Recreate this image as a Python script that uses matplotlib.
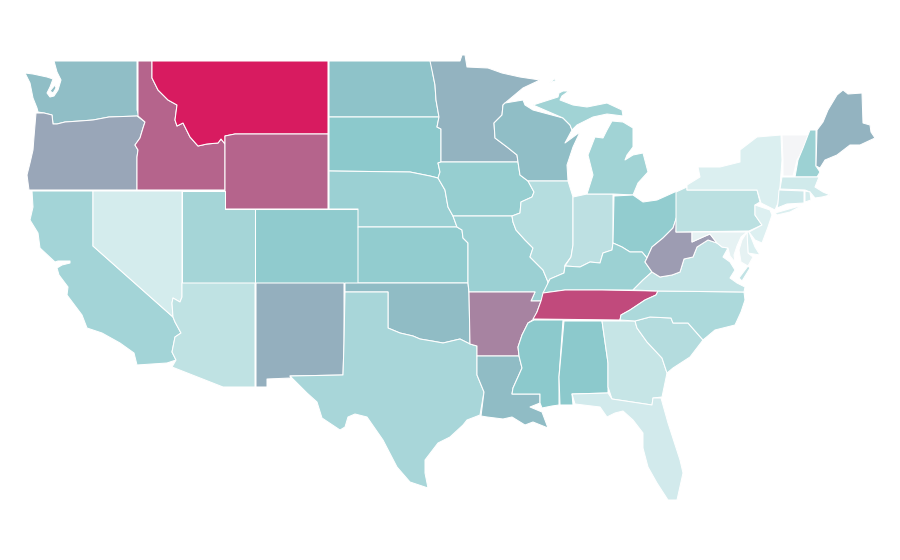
import matplotlib
matplotlib.use('Agg')
import matplotlib.pyplot as plt
from matplotlib.collections import PolyCollection
from matplotlib.colors import LinearSegmentedColormap

# state values (0 = palest, 1 = strongest)
states = ['WA', 'OR', 'CA', 'ID', 'NV', 'MT', 'WY', 'UT', 'AZ', 'CO', 'NM', 'ND', 'SD', 'NE', 'KS', 'OK', 'TX',
          'MN', 'IA', 'MO', 'AR', 'LA', 'WI', 'IL', 'IN', 'MI', 'OH', 'KY', 'TN', 'MS', 'AL', 'GA', 'FL', 'SC',
          'NC', 'VA', 'WV', 'PA', 'NY', 'VT', 'NH', 'ME', 'MA', 'CT', 'RI', 'NJ', 'DE', 'MD']
values = [0.50, 0.62, 0.35, 0.80, 0.14, 1.00, 0.80, 0.34, 0.23, 0.43, 0.57, 0.48, 0.45, 0.385, 0.424, 0.51, 0.33,
          0.55, 0.407, 0.385, 0.72, 0.51, 0.50, 0.27, 0.24, 0.363, 0.424, 0.38, 0.87, 0.45, 0.45, 0.20, 0.15, 0.28,
          0.31, 0.216, 0.66, 0.247, 0.108, 0.0, 0.38, 0.55, 0.16, 0.17, 0.14, 0.10, 0.11, 0.06]

# state outlines in the picture's pixel grid, some states have more than one part
outlines = {
    'WA': [[(54, 61), (137, 61), (137, 110), (139, 116), (109, 117), (93, 120), (80, 121), (65, 122), (57, 124), (53, 124),
            (52, 115), (44, 113), (38, 112), (37, 108), (33, 98), (30, 83), (25, 73), (33, 74), (47, 77), (53, 79), (50, 87),
            (47, 93), (50, 97), (54, 96), (58, 90), (61, 80), (57, 72)],
           [(50, 91), (55, 85), (56, 88), (53, 93)]],
    'OR': [[(36, 113), (44, 113), (52, 115), (53, 124), (57, 124), (65, 122), (80, 121), (93, 120), (109, 117), (137, 116),
            (145, 122), (143, 128), (140, 138), (135, 145), (138, 150), (137, 157), (137, 190), (29, 190), (27, 175), (30, 163),
            (33, 150), (34, 137)]],
    'CA': [[(32, 191), (93, 191), (93, 246), (173, 317), (175, 322), (181, 333), (175, 337), (172, 352), (176, 360), (167, 363),
            (137, 365), (134, 353), (120, 343), (102, 333), (87, 328), (82, 315), (67, 295), (68, 287), (59, 275), (57, 268),
            (62, 265), (70, 263), (70, 261), (58, 261), (55, 262), (40, 248), (38, 233), (30, 220), (33, 207)]],
    'ID': [[(138, 61), (152, 61), (152, 78), (158, 90), (168, 100), (177, 105), (175, 120), (177, 126), (183, 123), (190, 137),
            (198, 146), (207, 144), (218, 143), (221, 139), (225, 144), (225, 190), (137, 190), (137, 157), (138, 150), (135, 145),
            (140, 138), (143, 128), (145, 122), (138, 116)]],
    'NV': [[(93, 191), (182, 191), (182, 297), (180, 302), (173, 298), (172, 303), (173, 317), (93, 246)]],
    'MT': [[(152, 61), (328, 61), (328, 134), (235, 134), (225, 136), (225, 144), (221, 139), (218, 143), (207, 144), (198, 146),
            (190, 137), (183, 123), (177, 126), (175, 120), (177, 105), (168, 100), (158, 90), (152, 78)]],
    'WY': [[(225, 136), (235, 134), (328, 134), (328, 209), (225, 209)]],
    'UT': [[(182, 191), (225, 191), (225, 209), (255, 209), (255, 283), (182, 283)]],
    'AZ': [[(182, 283), (255, 283), (255, 387), (223, 387), (172, 367), (176, 360), (172, 352), (175, 337), (181, 333), (175, 322),
            (173, 317), (172, 303), (173, 298), (180, 302), (182, 297)]],
    'CO': [[(255, 209), (358, 209), (358, 283), (255, 283)]],
    'NM': [[(256, 283), (344, 283), (344, 343), (343, 375), (290, 376), (291, 378), (267, 379), (267, 387), (256, 387)]],
    'ND': [[(329, 61), (431, 61), (433, 75), (435, 85), (436, 100), (439, 117), (329, 117)]],
    'SD': [[(329, 117), (439, 117), (437, 127), (441, 129), (441, 162), (438, 163), (440, 172), (438, 178), (430, 176), (420, 174),
            (410, 172), (329, 171)]],
    'NE': [[(329, 171), (410, 172), (420, 174), (430, 176), (438, 178), (445, 190), (448, 207), (453, 216), (457, 227), (358, 227),
            (358, 209), (329, 209)]],
    'KS': [[(358, 227), (457, 227), (462, 230), (463, 238), (468, 243), (468, 283), (358, 283)]],
    'OK': [[(345, 283), (468, 283), (469, 293), (470, 344), (460, 339), (443, 343), (432, 341), (420, 339), (413, 336), (400, 333),
            (388, 328), (388, 292), (345, 292)]],
    'TX': [[(345, 292), (388, 292), (388, 328), (400, 333), (413, 336), (420, 339), (432, 341), (443, 343), (460, 339), (470, 344),
            (477, 346), (477, 375), (484, 392), (480, 415), (467, 420), (463, 425), (450, 437), (438, 443), (425, 460), (425, 473),
            (428, 488), (410, 482), (397, 467), (383, 440), (367, 417), (355, 414), (348, 417), (345, 427), (340, 430), (322, 418),
            (317, 402), (307, 393), (290, 376), (343, 375), (344, 343)]],
    'MN': [[(430, 61), (460, 61), (462, 55), (465, 55), (467, 67), (488, 68), (502, 73), (520, 77), (540, 80), (523, 88), (505, 103),
            (503, 105), (502, 115), (494, 123), (495, 138), (507, 147), (517, 155), (518, 162), (441, 162), (441, 129), (437, 127),
            (439, 117), (436, 100), (435, 85), (433, 75)]],
    'IA': [[(441, 162), (518, 162), (520, 175), (528, 181), (534, 192), (532, 197), (521, 202), (520, 213), (512, 216), (453, 216),
            (448, 207), (445, 190), (438, 178), (440, 172), (438, 163)]],
    'MO': [[(453, 216), (512, 216), (513, 222), (516, 230), (525, 240), (533, 248), (530, 257), (543, 270), (548, 282), (546, 292),
            (541, 301), (531, 301), (535, 292), (469, 292), (468, 283), (468, 243), (463, 238), (462, 230), (457, 227)]],
    'AR': [[(469, 292), (535, 292), (531, 301), (541, 301), (537, 312), (534, 319), (528, 323), (522, 335), (518, 347), (519, 356),
            (477, 356), (477, 346), (470, 344)]],
    'LA': [[(477, 356), (519, 356), (522, 368), (513, 388), (512, 394), (540, 394), (540, 403), (530, 407), (542, 412), (548, 428),
            (533, 422), (525, 425), (512, 417), (503, 419), (487, 417), (481, 416), (484, 392), (477, 375)]],
    'WI': [[(503, 105), (505, 103), (523, 100), (525, 105), (533, 110), (563, 118), (570, 125), (572, 130), (565, 143), (580, 132),
            (573, 147), (567, 165), (568, 181), (528, 181), (520, 175), (518, 162), (517, 155), (507, 147), (495, 138), (494, 123),
            (502, 115)]],
    'IL': [[(528, 181), (568, 181), (573, 197), (573, 245), (571, 257), (565, 265), (564, 273), (550, 279), (548, 282), (543, 270),
            (530, 257), (533, 248), (525, 240), (516, 230), (513, 222), (512, 216), (520, 213), (521, 202), (532, 197), (534, 192)]],
    'IN': [[(573, 197), (587, 194), (613, 194), (613, 243), (612, 250), (603, 253), (600, 263), (590, 262), (580, 267), (565, 266),
            (571, 257), (573, 245)]],
    'MI': [[(587, 194), (613, 194), (633, 195), (638, 183), (648, 172), (643, 153), (633, 155), (625, 160), (627, 155), (633, 147),
            (633, 128), (623, 122), (612, 121), (607, 130), (603, 138), (595, 137), (588, 155), (593, 175)],
           [(533, 105), (558, 97), (559, 93), (563, 91), (569, 91), (562, 96), (560, 100), (573, 105), (587, 107), (607, 103), (622, 110),
            (623, 116), (607, 114), (593, 117), (577, 125), (572, 130), (570, 125), (563, 118)],
           [(549, 83), (556, 78), (555, 81)]],
    'OH': [[(614, 196), (633, 195), (643, 202), (657, 200), (677, 191), (677, 216), (673, 228), (663, 238), (652, 247), (647, 258),
            (642, 252), (630, 252), (622, 247), (613, 243)]],
    'KY': [[(543, 293), (550, 279), (564, 273), (565, 266), (580, 267), (590, 262), (600, 263), (603, 253), (612, 250), (613, 243),
            (622, 247), (630, 252), (642, 252), (647, 258), (645, 262), (652, 272), (643, 280), (633, 290), (565, 290)]],
    'TN': [[(543, 293), (565, 290), (602, 290), (658, 291), (656, 295), (645, 300), (630, 310), (621, 315), (620, 320), (533, 319),
            (537, 312), (541, 301)]],
    'MS': [[(534, 320), (563, 320), (559, 377), (559, 405), (552, 406), (542, 408), (540, 403), (540, 394), (512, 394), (513, 388),
            (522, 368), (519, 356), (518, 347), (522, 335), (528, 323)]],
    'AL': [[(564, 321), (602, 321), (608, 363), (608, 393), (572, 394), (573, 405), (567, 405), (560, 405), (559, 377)]],
    'GA': [[(602, 321), (635, 321), (637, 328), (647, 342), (662, 358), (667, 373), (662, 397), (653, 398), (652, 405), (612, 399),
            (608, 387), (608, 363)]],
    'FL': [[(572, 394), (608, 393), (612, 399), (652, 405), (653, 398), (661, 398), (668, 423), (680, 460), (683, 473), (677, 500),
            (668, 500), (657, 483), (648, 467), (643, 448), (643, 433), (633, 420), (623, 411), (615, 413), (607, 417), (600, 407),
            (575, 404)]],
    'SC': [[(635, 321), (650, 317), (671, 318), (673, 323), (688, 323), (703, 340), (690, 357), (673, 368), (667, 373), (662, 358),
            (647, 342), (637, 328)]],
    'NC': [[(658, 291), (744, 292), (745, 300), (741, 312), (735, 325), (715, 330), (703, 340), (688, 323), (673, 323), (671, 318),
            (650, 317), (635, 321), (620, 320), (621, 315), (630, 310), (645, 300), (656, 295)]],
    'VA': [[(633, 290), (658, 291), (744, 292), (745, 287), (737, 283), (730, 278), (735, 270), (730, 262), (723, 257), (728, 248),
            (722, 247), (717, 243), (708, 240), (697, 247), (693, 257), (684, 259), (680, 272), (672, 275), (660, 277), (652, 272),
            (643, 280)],
           [(748, 266), (750, 268), (742, 281), (739, 278)]],
    'WV': [[(677, 216), (676, 232), (692, 232), (692, 242), (703, 237), (710, 234), (717, 243), (708, 240), (697, 247), (693, 257),
            (684, 259), (680, 272), (672, 275), (660, 277), (652, 272), (645, 262), (647, 258), (652, 247), (663, 238), (673, 228)]],
    'PA': [[(676, 192), (687, 187), (687, 190), (757, 190), (760, 202), (755, 205), (755, 215), (762, 225), (749, 231), (676, 232)]],
    'NY': [[(687, 190), (687, 185), (700, 177), (698, 167), (720, 167), (740, 162), (740, 150), (757, 137), (781, 135), (782, 160),
            (780, 187), (778, 203), (775, 210), (761, 203), (757, 190)],
           [(775, 213), (803, 205), (790, 212), (777, 215)]],
    'VT': [[(782, 135), (808, 135), (803, 150), (797, 160), (793, 176), (783, 176), (783, 160)]],
    'NH': [[(810, 130), (816, 130), (816, 166), (820, 172), (817, 177), (795, 177), (798, 160), (803, 148), (808, 135)]],
    'ME': [[(817, 130), (823, 122), (828, 110), (837, 95), (843, 90), (848, 94), (862, 93), (863, 123), (870, 125), (871, 132), (875, 138),
            (860, 145), (850, 145), (837, 155), (825, 160), (820, 168), (816, 166)]],
    'MA': [[(782, 177), (819, 177), (815, 187), (823, 192), (830, 195), (822, 197), (815, 198), (810, 192), (805, 190), (780, 189)]],
    'CT': [[(779, 190), (804, 191), (804, 203), (787, 204), (777, 208), (778, 203)]],
    'RI': [[(805, 191), (810, 192), (811, 200), (805, 202)]],
    'NJ': [[(755, 205), (770, 210), (772, 215), (768, 227), (762, 243), (755, 240), (749, 232), (762, 225), (755, 215)]],
    'DE': [[(747, 232), (749, 232), (755, 247), (760, 255), (748, 253)]],
    'MD': [[(692, 232), (747, 232), (741, 237), (737, 246), (734, 255), (735, 262), (730, 256), (728, 248), (722, 247), (717, 243),
            (710, 234), (703, 237), (692, 242)],
           [(747, 232), (748, 253), (753, 257), (748, 266), (741, 262), (739, 250), (742, 240)]],
}

# palette runs pale grey -> teal -> slate -> crimson
palette = LinearSegmentedColormap.from_list('map', [(0.0, '#f4f5f7'), (0.108, '#dbeff0'), (0.45, '#8cc9cc'), (0.55, '#93b3c0'),
                                                    (0.65, '#9ba0b4'), (0.80, '#b5648c'), (1.0, '#d81b60')])

polys = []
poly_values = []
for state, value in zip(states, values):
    for part in outlines[state]:
        polys.append(part)
        poly_values.append(value)

fig = plt.figure(figsize=(9, 5.6), dpi=100)
ax = fig.add_axes([0, 0, 1, 1])
shapes = PolyCollection(polys, array=poly_values, cmap=palette, edgecolors='white', linewidths=0.75)
shapes.set_clim(0, 1)
ax.add_collection(shapes)
ax.set_xlim(0, 900)
ax.set_ylim(560, 0)
ax.axis('off')

fig.savefig('out.png', dpi=100)
